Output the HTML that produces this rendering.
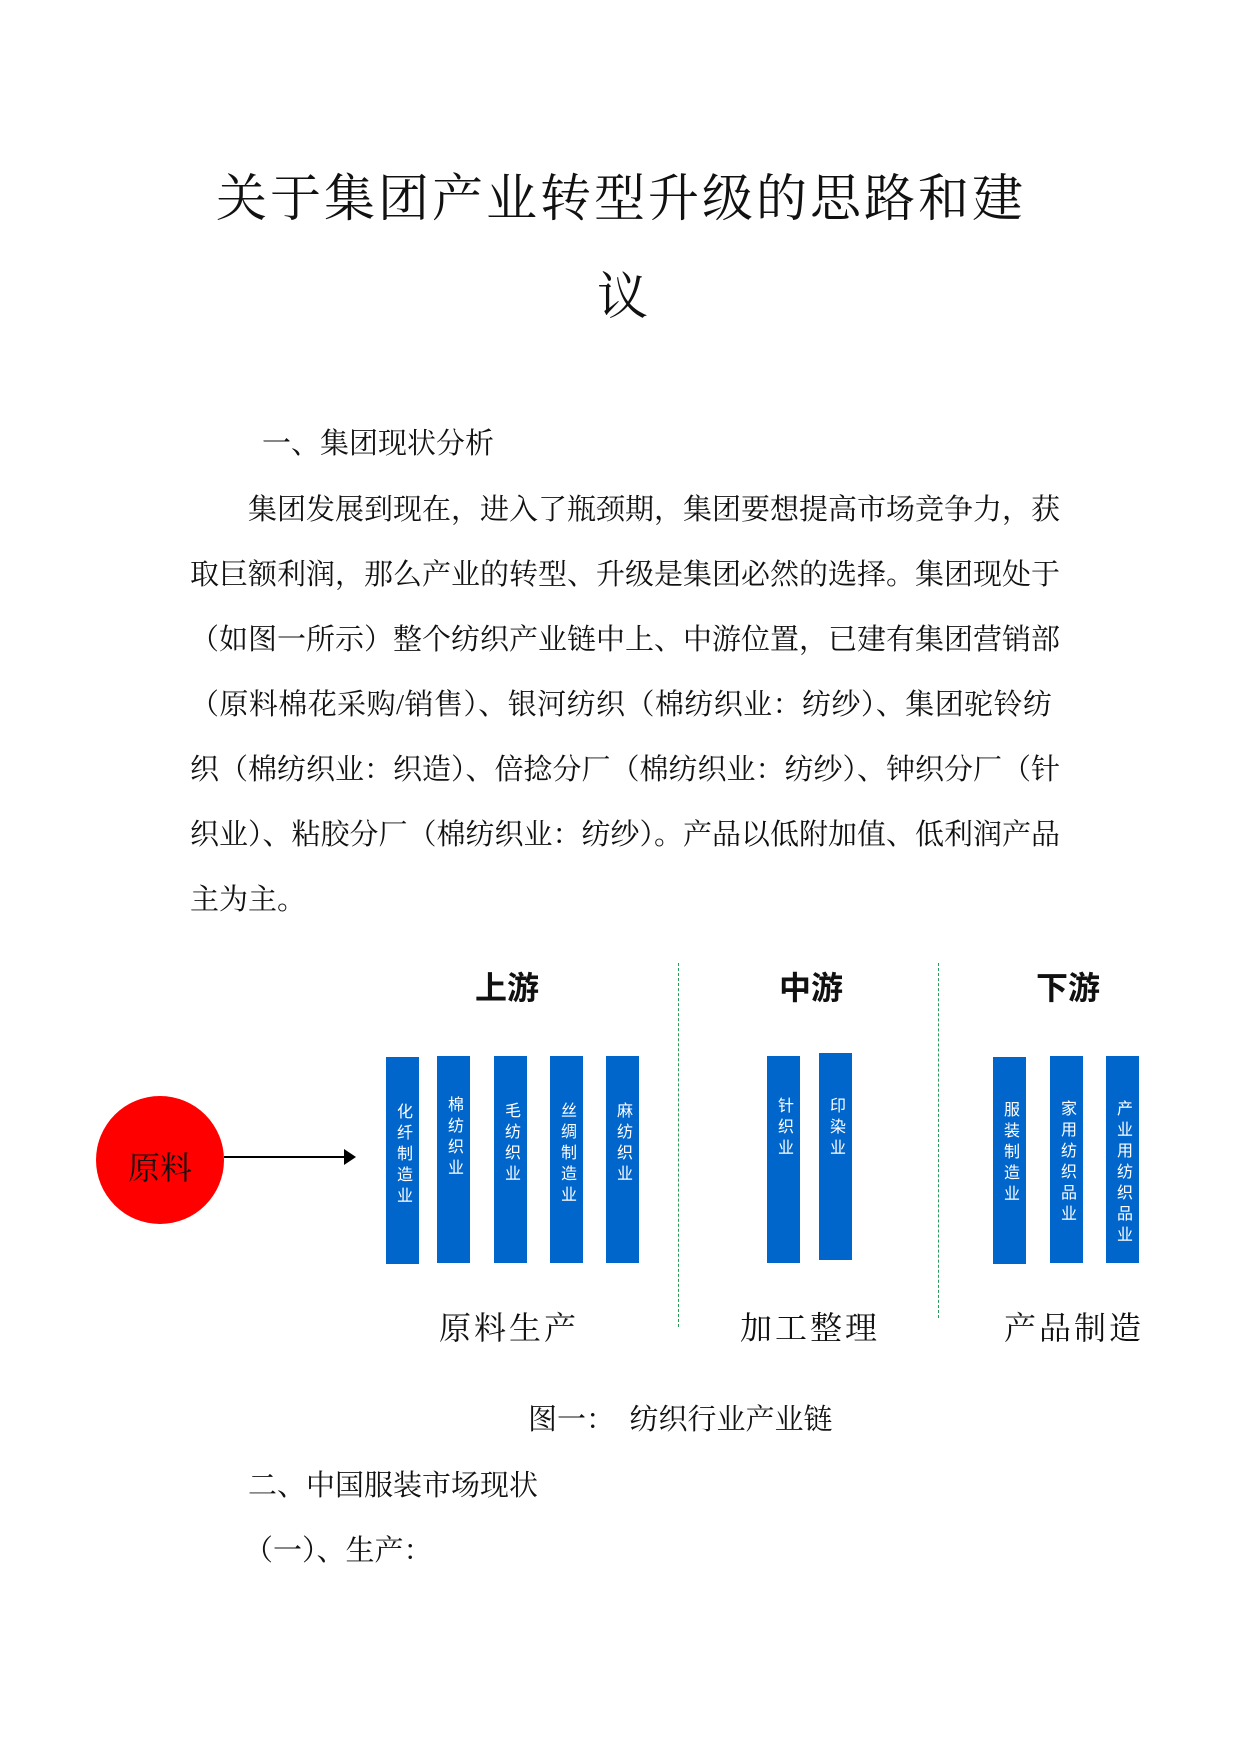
<!DOCTYPE html>
<html><head><meta charset="utf-8"><style>
body{margin:0;width:1241px;height:1754px;background:#fff;position:relative;overflow:hidden;font-family:"Liberation Serif","Noto Serif CJK SC",serif;color:#111}
.a{position:absolute;white-space:nowrap}
.t{font-size:51px;line-height:1}
.p{font-size:29px;line-height:1;left:190px;text-align:justify;text-align-last:justify}
.bar{position:absolute;width:33px;background:#0066cc;top:1056px;height:207px}
.bar span{position:absolute;left:0;width:33px;top:46px;writing-mode:vertical-rl;text-orientation:upright;color:#fff;font-family:"Liberation Sans","Noto Sans CJK SC",sans-serif;font-size:16px;line-height:33px;letter-spacing:5px}
.h{font-family:"Liberation Sans","Noto Sans CJK SC",sans-serif;font-weight:bold;font-size:32px;line-height:1;transform:translateX(-50%)}
.b{font-family:"Liberation Serif","Noto Serif CJK SC",serif;font-size:32px;line-height:1;transform:translateX(-50%);letter-spacing:3px}
.d{position:absolute;width:0;border-left:1px dashed #2a9a5a}
</style></head><body>
<div class="a t" style="left:216px;top:175px;letter-spacing:3px">关于集团产业转型升级的思路和建</div>
<div class="a t" style="left:597px;top:273px">议</div>
<div class="a" style="left:262px;top:421px;font-size:29px">一、集团现状分析</div>
<div class="a p" style="top:496px;left:248px;width:812px">集团发展到现在，进入了瓶颈期，集团要想提高市场竞争力，获</div>
<div class="a p" style="top:561px;width:862px">取巨额利润，那么产业的转型、升级是集团必然的选择。集团现处于</div>
<div class="a p" style="top:626px;width:862px">（如图一所示）整个纺织产业链中上、中游位置，已建有集团营销部</div>
<div class="a p" style="top:691px;width:862px">（原料棉花采购/销售）、银河纺织（棉纺织业：纺纱）、集团驼铃纺</div>
<div class="a p" style="top:756px;width:862px">织（棉纺织业：织造）、倍捻分厂（棉纺织业：纺纱）、钟织分厂（针</div>
<div class="a p" style="top:821px;width:862px">织业）、粘胶分厂（棉纺织业：纺纱）。产品以低附加值、低利润产品</div>
<div class="a" style="left:190px;top:877px;font-size:29px">主为主。</div>

<div class="d" style="left:678px;top:963px;height:364px"></div>
<div class="d" style="left:938px;top:963px;height:355px"></div>
<div class="a h" style="left:507px;top:972px">上游</div>
<div class="a h" style="left:811px;top:972px">中游</div>
<div class="a h" style="left:1068px;top:972px">下游</div>

<div class="a" style="left:96px;top:1096px;width:128px;height:128px;border-radius:50%;background:#ff0000"></div>
<div class="a" style="left:128px;top:1143px;font-size:32px;font-family:'Liberation Serif','Noto Serif CJK SC',serif">原料</div>
<div class="a" style="left:224px;top:1156px;width:122px;height:2px;background:#000"></div>
<div class="a" style="left:344px;top:1149px;width:0;height:0;border-left:12px solid #000;border-top:8px solid transparent;border-bottom:8px solid transparent"></div>

<div class="bar" style="left:386px;top:1057px"><span>化纤制造业</span></div>
<div class="bar" style="left:437px"><span style="top:40px">棉纺织业</span></div>
<div class="bar" style="left:494px"><span>毛纺织业</span></div>
<div class="bar" style="left:550px"><span>丝绸制造业</span></div>
<div class="bar" style="left:606px"><span>麻纺织业</span></div>
<div class="bar" style="left:767px"><span style="top:41px">针织业</span></div>
<div class="bar" style="left:819px;top:1053px"><span style="top:44px">印染业</span></div>
<div class="bar" style="left:993px;top:1057px"><span style="top:44px">服装制造业</span></div>
<div class="bar" style="left:1050px"><span style="top:44px">家用纺织品业</span></div>
<div class="bar" style="left:1106px"><span style="top:44px">产业用纺织品业</span></div>

<div class="a b" style="left:509px;top:1312px">原料生产</div>
<div class="a b" style="left:810px;top:1312px">加工整理</div>
<div class="a b" style="left:1074px;top:1312px">产品制造</div>

<div class="a" style="left:528px;top:1397px;font-size:29px">图一：&nbsp;&nbsp;纺织行业产业链</div>
<div class="a" style="left:248px;top:1463px;font-size:29px">二、中国服装市场现状</div>
<div class="a" style="left:244px;top:1528px;font-size:29px">（一）、生产：</div>
</body></html>
